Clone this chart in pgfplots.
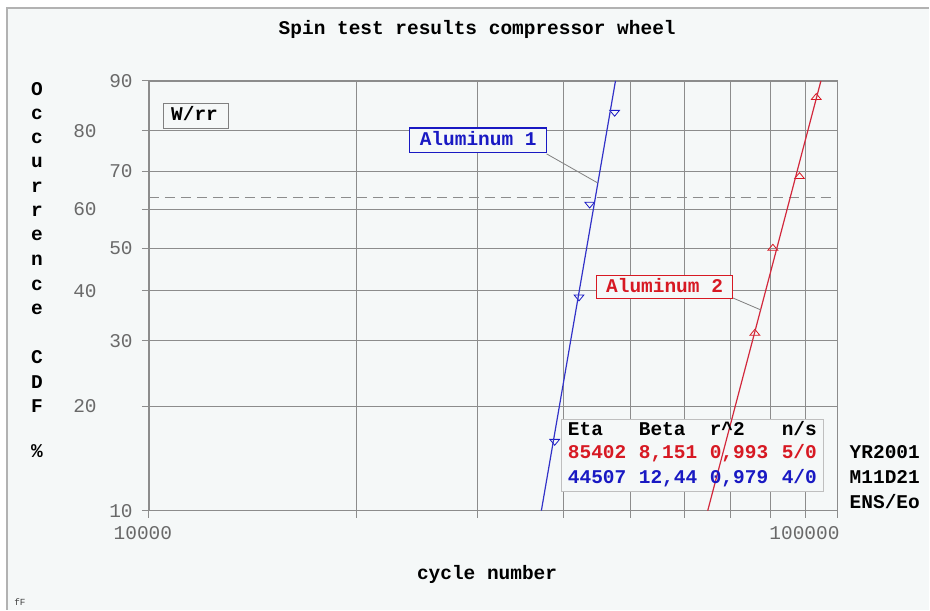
\documentclass[border=0pt]{standalone}
\usepackage{pgfplots}
\pgfplotsset{compat=1.18}
\usepackage{fontspec}
\setmainfont{Liberation Mono}
\definecolor{bg}{RGB}{245,248,248}
\definecolor{gridc}{RGB}{140,140,140}
\definecolor{tickc}{RGB}{105,105,105}
\definecolor{blu}{RGB}{25,25,195}
\definecolor{rd}{RGB}{215,25,35}
\definecolor{bline}{RGB}{50,50,200}
\definecolor{rline}{RGB}{210,40,60}
\newcommand{\fs}{\fontsize{14.6}{17}\selectfont}
\begin{document}
\begin{tikzpicture}
\begin{scope}[x=0.75pt,y=-0.75pt,shift={(0pt,457.5pt)}]
  \fill[white] (0,0) rectangle (930,610);
  \fill[bg] (7,8) rectangle (930,610);
  \draw[gray!60,line width=0.9pt] (7,610) -- (7,8) -- (930,8);
\end{scope}
\begin{axis}[
  at={(111.75pt,74.25pt)}, anchor=south west,
  scale only axis, width=516.75pt, height=322.5pt,
  xmode=log, xmin=10000, xmax=100000,
  ymin=-2.2504, ymax=0.8340,
  xtick={10000,20000,30000,40000,50000,60000,70000,80000,90000,100000},
  minor xtick={},
  ytick={-2.2504,-1.4999,-1.0309,-0.6717,-0.3665,-0.0874,0.1856,0.4759,0.8340},
  xticklabels={}, yticklabels={},
  grid=major,
  major grid style={gridc, line width=0.75pt},
  axis line style={gridc, line width=1pt},
  tick style={gridc, line width=0.75pt},
  tick align=outside, major tick length=5.25pt,
  xtick pos=bottom, ytick pos=left,
  clip marker paths=true,
]
\draw[gridc, line width=0.75pt, dash pattern=on 7.5pt off 4.5pt] (axis cs:10000,0) -- (axis cs:100000,0);
% data points (median ranks)
\addplot[only marks, mark=triangle, blu, mark size=4.2pt, mark options={rotate=180, yscale=0.7, line width=0.6pt}]
  coordinates {(38850,-1.7528) (42130,-0.7166) (43660,-0.0503) (47460,0.6088)};
\addplot[only marks, mark=triangle, rd, mark size=4.2pt, mark options={yscale=0.7, line width=0.6pt}]
  coordinates {(67430,-1.9764) (75860,-0.9766) (80560,-0.3665) (88070,0.1476) (93140,0.7154)};
% results box
\filldraw[fill=bg, draw=gray!50, line width=0.75pt] (rel axis cs:0.5994,0.0442) rectangle (rel axis cs:0.9797,0.2116);
% fitted lines
\addplot[bline, line width=0.9pt] coordinates {(37148,-2.2504) (47593,0.8340)};
\addplot[rline, line width=0.9pt] coordinates {(64794,-2.2504) (94604,0.8340)};
\end{axis}
\begin{scope}[x=0.75pt,y=-0.75pt,shift={(0pt,457.5pt)}, every node/.style={inner sep=0pt}]
  \node[font=\fs\bfseries, anchor=base] at (477.5,35) {Spin test results compressor wheel};
  % y label
  \foreach \l/\yy in {O/96, c/119.5, c/143.5, u/167.5, r/192.5, r/216.5, e/240.5, n/265.5, c/290.5, e/314.5, C/364, D/389, F/413, \%/458}
    \node[font=\fs\bfseries, anchor=base] at (37,\yy) {\l};
  % y tick labels
  \foreach \t/\yy/\xx in {10/511/133, 20/406.3/97, 30/341/133, 40/290.9/97, 50/248.4/133, 60/209.4/97, 70/171.4/133, 80/130.9/97, 90/81/133}
    \node[font=\fs, text=tickc, anchor=east] at (\xx,\yy) {\t};
  % x tick labels
  \node[font=\fs, text=tickc, anchor=base] at (143,540) {10000};
  \node[font=\fs, text=tickc, anchor=base] at (805,540) {100000};
  \node[font=\fs\bfseries, anchor=base west] at (417,580) {cycle number};
  % W/rr box
  \filldraw[fill=bg, draw=gray, line width=0.75pt] (164,104) rectangle (229,129);
  \node[font=\fs\bfseries, anchor=base west] at (171,121) {W/rr};
  % Aluminum 1
  \draw[gray, line width=0.6pt] (547,154) -- (598,183);
  \filldraw[fill=bg, draw=blu, line width=0.9pt] (410,128) rectangle (547,153);
  \node[font=\fs\bfseries, text=blu, anchor=base] at (478.5,146) {Aluminum 1};
  % Aluminum 2
  \draw[gray, line width=0.6pt] (733,298) -- (761,310);
  \filldraw[fill=bg, draw=rd, line width=0.9pt] (597,276) rectangle (733,299);
  \node[font=\fs\bfseries, text=rd, anchor=base] at (665,293) {Aluminum 2};
  % table text
  \node[font=\fs\bfseries, anchor=base west] at (568,436) {Eta};
  \node[font=\fs\bfseries, anchor=base west] at (639,436) {Beta};
  \node[font=\fs\bfseries, anchor=base west] at (710,436) {r\textasciicircum 2};
  \node[font=\fs\bfseries, anchor=base west] at (782,436) {n/s};
  \node[font=\fs\bfseries, text=rd, anchor=base west] at (568,459) {85402};
  \node[font=\fs\bfseries, text=rd, anchor=base west] at (639,459) {8,151};
  \node[font=\fs\bfseries, text=rd, anchor=base west] at (710,459) {0,993};
  \node[font=\fs\bfseries, text=rd, anchor=base west] at (782,459) {5/0};
  \node[font=\fs\bfseries, text=blu, anchor=base west] at (568,484) {44507};
  \node[font=\fs\bfseries, text=blu, anchor=base west] at (639,484) {12,44};
  \node[font=\fs\bfseries, text=blu, anchor=base west] at (710,484) {0,979};
  \node[font=\fs\bfseries, text=blu, anchor=base west] at (782,484) {4/0};
  % right side
  \node[font=\fs\bfseries, anchor=base west] at (850,459) {YR2001};
  \node[font=\fs\bfseries, anchor=base west] at (850,484) {M11D21};
  \node[font=\fs\bfseries, anchor=base west] at (850,509) {ENS/Eo};
  \node[font=\fontsize{7}{8}\selectfont, text=darkgray, anchor=base west] at (14,606) {fF};
\end{scope}
\end{tikzpicture}
\end{document}
